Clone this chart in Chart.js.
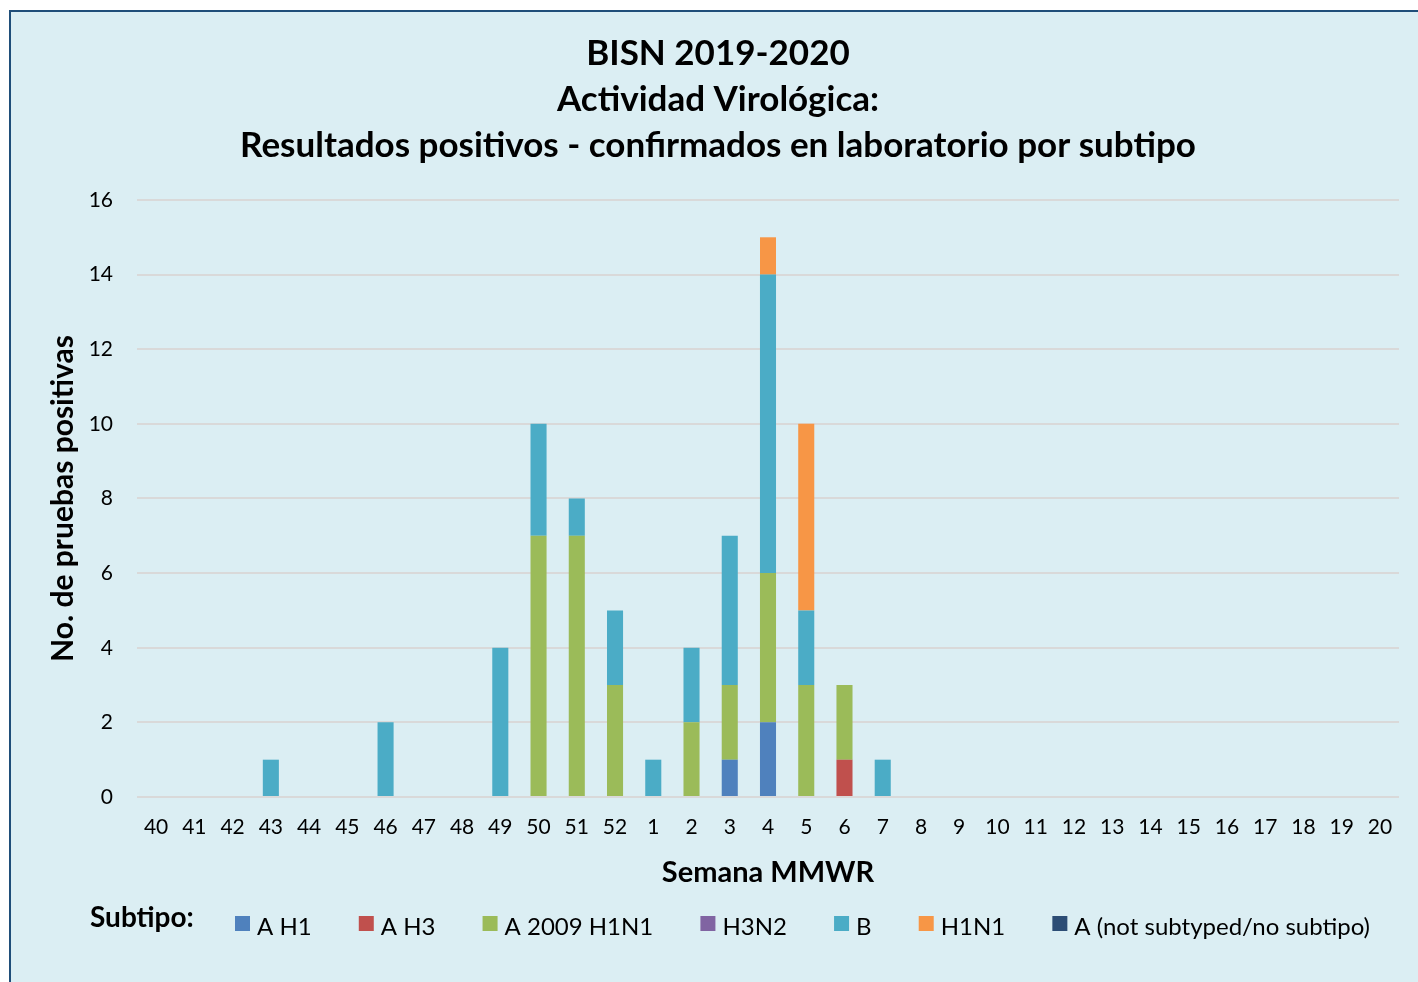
<!DOCTYPE html>
<html>
<head>
<meta charset="utf-8">
<script src="https://cdn.jsdelivr.net/npm/chart.js@4.4.1/dist/chart.umd.min.js"></script>
<style>
  html, body { margin: 0; padding: 0; background: #ffffff; overflow: hidden; }
  #frame { position: absolute; left: 9px; top: 10px; width: 1430px; height: 1000px;
           background: #DBEEF3; border: 2.5px solid #1F4E79; box-sizing: border-box; }
  #c { position: absolute; left: 0; top: 0; }
</style>
</head>
<body>
<div id="frame"></div>
<canvas id="c" width="1418" height="982"></canvas>
<script>
const weeks = ['40','41','42','43','44','45','46','47','48','49','50','51','52',
               '1','2','3','4','5','6','7','8','9','10','11','12','13','14','15','16','17','18','19','20'];
//                 40 41 42 43 44 45 46 47 48 49 50 51 52  1  2  3  4  5  6  7  8  9 10 11 12 13 14 15 16 17 18 19 20
const aH1       = [ 0, 0, 0, 0, 0, 0, 0, 0, 0, 0, 0, 0, 0, 0, 0, 1, 2, 0, 0, 0, 0, 0, 0, 0, 0, 0, 0, 0, 0, 0, 0, 0, 0];
const aH3       = [ 0, 0, 0, 0, 0, 0, 0, 0, 0, 0, 0, 0, 0, 0, 0, 0, 0, 0, 1, 0, 0, 0, 0, 0, 0, 0, 0, 0, 0, 0, 0, 0, 0];
const a2009H1N1 = [ 0, 0, 0, 0, 0, 0, 0, 0, 0, 0, 7, 7, 3, 0, 2, 2, 4, 3, 2, 0, 0, 0, 0, 0, 0, 0, 0, 0, 0, 0, 0, 0, 0];
const h3n2      = [ 0, 0, 0, 0, 0, 0, 0, 0, 0, 0, 0, 0, 0, 0, 0, 0, 0, 0, 0, 0, 0, 0, 0, 0, 0, 0, 0, 0, 0, 0, 0, 0, 0];
const fluB      = [ 0, 0, 0, 1, 0, 0, 2, 0, 0, 4, 3, 1, 2, 1, 2, 4, 8, 2, 0, 1, 0, 0, 0, 0, 0, 0, 0, 0, 0, 0, 0, 0, 0];
const h1n1      = [ 0, 0, 0, 0, 0, 0, 0, 0, 0, 0, 0, 0, 0, 0, 0, 0, 1, 5, 0, 0, 0, 0, 0, 0, 0, 0, 0, 0, 0, 0, 0, 0, 0];
const aNotSub   = [ 0, 0, 0, 0, 0, 0, 0, 0, 0, 0, 0, 0, 0, 0, 0, 0, 0, 0, 0, 0, 0, 0, 0, 0, 0, 0, 0, 0, 0, 0, 0, 0, 0];
const yTicks = [0, 2, 4, 6, 8, 10, 12, 14, 16];

const FONT = 'Lato';

const series = [
  { label: 'A H1', data: aH1, color: '#4F81BD' },
  { label: 'A H3', data: aH3, color: '#C0504D' },
  { label: 'A 2009 H1N1', data: a2009H1N1, color: '#9BBB59' },
  { label: 'H3N2', data: h3n2, color: '#8064A2' },
  { label: 'B', data: fluB, color: '#4BACC6' },
  { label: 'H1N1', data: h1n1, color: '#F79646' },
  { label: 'A (not subtyped/no subtipo)', data: aNotSub, color: '#2C4D75' }
];

const legendPlugin = {
  id: 'customLegend',
  afterDraw(chart) {
    const ctx = chart.ctx;
    ctx.save();
    ctx.textBaseline = 'middle';
    ctx.textAlign = 'left';
    ctx.fillStyle = '#000';
    ctx.font = 'bold 28px ' + FONT;
    ctx.fillText('Subtipo:', 90, 918);
    ctx.font = '24px ' + FONT;
    const ds = chart.data.datasets;
    let total = 0;
    ds.forEach(d => { total += 22 + ctx.measureText(d.label).width; });
    const startX = 235, endX = 1370;
    const gap = (endX - startX - total) / (ds.length - 1);
    let x = startX;
    ds.forEach(d => {
      ctx.fillStyle = d.backgroundColor;
      ctx.fillRect(x, 916, 15, 15);
      ctx.fillStyle = '#000';
      ctx.fillText(d.label, x + 22, 927);
      x += 22 + ctx.measureText(d.label).width + gap;
    });
    ctx.restore();
  }
};

new Chart(document.getElementById('c'), {
  type: 'bar',
  data: {
    labels: weeks,
    datasets: series.map(s => ({
      label: s.label,
      data: s.data,
      backgroundColor: s.color,
      borderWidth: 0,
      barPercentage: 0.42,
      categoryPercentage: 1.0
    }))
  },
  options: {
    responsive: false,
    animation: false,
    layout: { padding: { left: 37, right: 19, top: 0, bottom: 82 } },
    plugins: {
      legend: { display: false },
      tooltip: { enabled: false },
      title: {
        display: true,
        text: ['BISN 2019-2020', 'Actividad Virológica:', 'Resultados positivos - confirmados en laboratorio por subtipo'],
        color: '#000',
        font: { family: FONT, size: 35, weight: 'bold', lineHeight: 1.314 },
        padding: { top: 31, bottom: 31 }
      }
    },
    scales: {
      x: {
        stacked: true,
        grid: { display: false, drawTicks: false },
        border: { display: false },
        ticks: { color: '#000', font: { family: FONT, size: 21 }, padding: 18, maxRotation: 0, autoSkip: false },
        title: { display: true, text: 'Semana MMWR', color: '#000',
                 font: { family: FONT, size: 29, weight: 'bold' }, padding: { top: 4, bottom: 10 } },
        afterFit(scale) { scale.height = 103; }
      },
      y: {
        stacked: true,
        min: 0, max: 16,
        afterBuildTicks(scale) { scale.ticks = yTicks.map(v => ({ value: v })); },
        grid: { color: '#D9D9D9', lineWidth: 2, drawTicks: false },
        border: { display: false },
        ticks: { color: '#000', font: { family: FONT, size: 21 }, padding: 24 },
        title: { display: true, text: 'No. de pruebas positivas', color: '#000',
                 font: { family: FONT, size: 30, weight: 'bold' }, padding: { top: 8, bottom: 4 } },
        afterFit(scale) { scale.width = 100; }
      }
    }
  },
  plugins: [legendPlugin]
});
</script>
</body>
</html>
